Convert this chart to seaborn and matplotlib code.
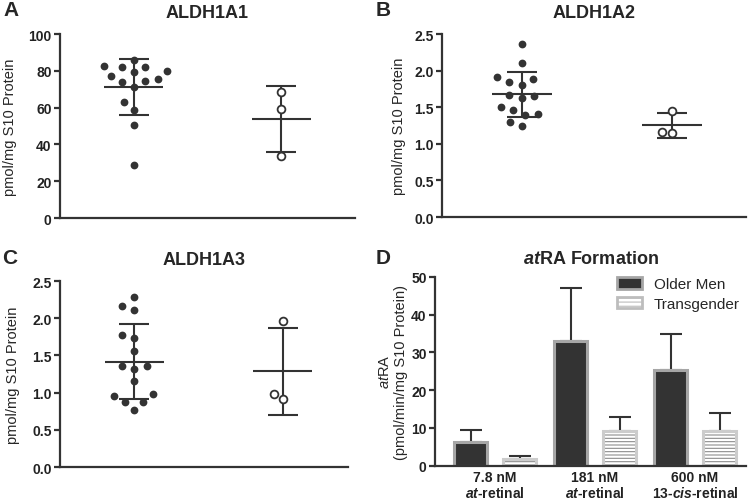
import matplotlib.pyplot as plt
import numpy as np
import pandas as pd
import seaborn as sns
from matplotlib.patches import Patch

sns.set_style('ticks')
plt.rcParams['font.family'] = ['Liberation Sans', 'DejaVu Sans']
plt.rcParams['mathtext.fontset'] = 'custom'
plt.rcParams['mathtext.rm'] = 'Liberation Sans'
plt.rcParams['mathtext.it'] = 'Liberation Sans:italic:bold'
plt.rcParams['mathtext.sf'] = 'Liberation Sans:italic'
plt.rcParams['hatch.linewidth'] = 0.8

DARK = '#333333'

# Data
groups = ['Older Men', 'Transgender']

a1_older = [85.9, 82.6, 82.2, 82.2, 80.1, 79.2, 77.0, 75.5, 73.7, 74.5, 71.4, 63.2, 58.7, 50.4, 28.8]
a1_trans = [68.5, 59.2, 33.9]

a2_older = [2.36, 2.10, 1.91, 1.84, 1.81, 1.88, 1.67, 1.63, 1.65, 1.50, 1.41, 1.40, 1.46, 1.24, 1.30]
a2_trans = [1.45, 1.15, 1.16]

a3_older = [2.28, 2.11, 2.16, 1.78, 1.74, 1.56, 1.36, 1.32, 1.36, 1.15, 0.98, 0.95, 0.88, 0.88, 0.76]
a3_trans = [1.96, 0.92, 0.98]

conditions = ['7.8 nM\n$\\it{at}$-retinal', '181 nM\n$\\it{at}$-retinal', '600 nM\n13-$\\it{cis}$-retinal']
older_mean = [6.3, 33.0, 25.3]
older_sd = [3.1, 13.9, 9.5]
trans_mean = [1.8, 9.2, 9.2]
trans_sd = [0.7, 3.8, 4.8]


def style_axis(ax, ylim, yticks, ylabel, labelpad):
    ax.set_ylim(ylim)
    ax.set_yticks(yticks)
    ax.set_xlabel('')
    ax.set_ylabel(ylabel, fontsize=10.5, labelpad=labelpad)
    sns.despine(ax=ax)
    for side in ['left', 'bottom']:
        ax.spines[side].set_linewidth(1.6)
        ax.spines[side].set_color(DARK)
    ax.tick_params(axis='y', length=4, width=1.6, color=DARK, labelsize=10, pad=2)
    plt.setp(ax.get_yticklabels(), fontweight='bold', color='#222222')


def draw_scatter(ax, older, trans, title, ylim, yticks, labelpad, xlim):
    df = pd.DataFrame({'group': [groups[0]] * len(older) + [groups[1]] * len(trans),
                       'value': older + trans})
    sns.swarmplot(data=df, x='group', y='value', order=groups, color=DARK,
                  size=5.6, ax=ax, zorder=3)
    # transparent edge widens the swarm spacing like the GraphPad layout
    ax.collections[0].set_edgecolor((1, 1, 1, 0))
    ax.collections[0].set_linewidth(3.2)
    ax.collections[1].set_facecolor('white')
    ax.collections[1].set_edgecolor(DARK)
    ax.collections[1].set_linewidth(1.3)

    pos = np.arange(len(groups))
    means = [np.mean(older), np.mean(trans)]
    sds = [np.std(older, ddof=1), np.std(trans, ddof=1)]
    ax.hlines(means, pos - 0.2, pos + 0.2, color=DARK, lw=1.5, zorder=2)
    ax.errorbar(pos, means, yerr=sds, fmt='none', ecolor=DARK, elinewidth=1.5,
                capsize=11, capthick=1.5, zorder=2)

    ax.set_xlim(xlim)
    ax.set_xticks([])
    ax.set_title(title, fontsize=13, fontweight='bold', pad=12)
    style_axis(ax, ylim, yticks, 'pmol/mg S10 Protein', labelpad)


fig = plt.figure(figsize=(7.48, 5.02), dpi=100)
ax_a = fig.add_axes([0.0802, 0.5637, 0.3944, 0.3665])
ax_b = fig.add_axes([0.5909, 0.5657, 0.4064, 0.3645])
ax_c = fig.add_axes([0.0802, 0.0677, 0.3850, 0.3705])
ax_d = fig.add_axes([0.5816, 0.0703, 0.4158, 0.3765])

draw_scatter(ax_a, a1_older, a1_trans, 'ALDH1A1', (0, 100), np.arange(0, 101, 20), 8, (-0.5, 1.5))
draw_scatter(ax_b, a2_older, a2_trans, 'ALDH1A2', (0, 2.5), np.arange(0, 2.51, 0.5), 6, (-0.53, 1.49))
draw_scatter(ax_c, a3_older, a3_trans, 'ALDH1A3', (0, 2.5), np.arange(0, 2.51, 0.5), 9, (-0.5, 1.44))

# Panel D: atRA formation bars
df_d = pd.DataFrame({'condition': conditions * 2,
                     'group': [groups[0]] * 3 + [groups[1]] * 3,
                     'value': older_mean + trans_mean})
sns.barplot(data=df_d, x='condition', y='value', hue='group', order=conditions,
            hue_order=groups, palette=[DARK, 'white'], width=0.98, gap=0.33,
            errorbar=None, legend=False, ax=ax_d)

om_bars = ax_d.containers[0]
tg_bars = ax_d.containers[1]
for p in om_bars:
    p.set_edgecolor('#a6a6a6')
    p.set_linewidth(2.2)
for p in tg_bars:
    p.set_hatch('-----')
    p.set_edgecolor('#8c8c8c')
    p.set_linewidth(0)

om_x = [p.get_x() + p.get_width() / 2 for p in om_bars]
tg_x = [p.get_x() + p.get_width() / 2 for p in tg_bars]
bar_w = tg_bars[0].get_width()
ax_d.bar(tg_x, trans_mean, width=bar_w, fill=False, edgecolor='#cccccc', lw=2.2, zorder=2)

ax_d.errorbar(om_x, older_mean, yerr=[np.zeros(3), older_sd], fmt='none', ecolor=DARK,
              elinewidth=1.5, capsize=8, capthick=1.5, zorder=0.9)
ax_d.errorbar(tg_x, trans_mean, yerr=[np.zeros(3), trans_sd], fmt='none', ecolor=DARK,
              elinewidth=1.5, capsize=8, capthick=1.5, zorder=0.9)

ax_d.set_xlim(-0.6, 2.51)
ax_d.set_title('$\\it{at}$RA Formation', fontsize=13, fontweight='bold', pad=10)
style_axis(ax_d, (0, 50), np.arange(0, 51, 10),
           '$\\mathsf{at}$RA\n(pmol/min/mg S10 Protein)', 2)
ax_d.tick_params(axis='x', length=0, pad=3, labelsize=10)
plt.setp(ax_d.get_xticklabels(), fontweight='bold', color='#222222', linespacing=1.1)

handles = [Patch(facecolor=DARK, edgecolor='#a6a6a6', lw=2),
           Patch(facecolor='white', edgecolor='#bdbdbd', hatch='----', lw=2)]
ax_d.legend(handles, groups, loc='upper right', bbox_to_anchor=(1.0, 1.03), frameon=False,
            fontsize=11, handlelength=1.6, handleheight=0.8, handletextpad=0.8,
            labelspacing=0.35, borderaxespad=0)

# Panel letters
for letter, x, y in [('A', 3, 11), ('B', 376, 11), ('C', 2, 258), ('D', 376, 258)]:
    fig.text(x / 748, 1 - y / 502, letter, fontsize=15, fontweight='bold',
             ha='left', va='center')

fig.savefig('out.png', dpi=100)
